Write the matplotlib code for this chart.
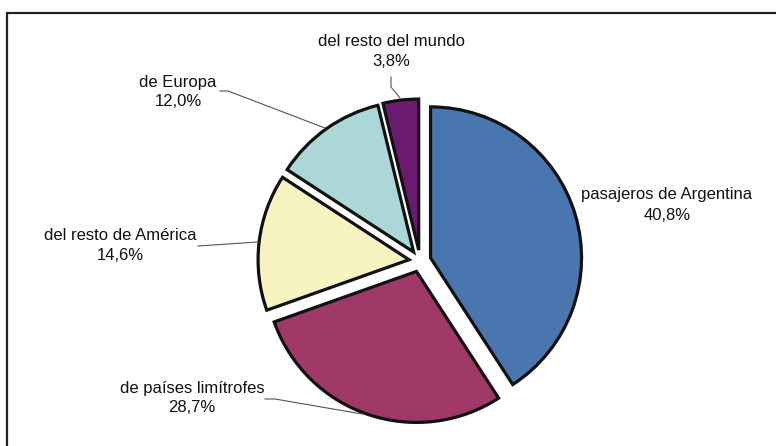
import matplotlib
matplotlib.use('Agg')
import matplotlib.pyplot as plt
from matplotlib.patches import Rectangle

plt.rcParams['font.family'] = ['Liberation Sans', 'DejaVu Sans']

# data
labels = ['pasajeros de Argentina', 'de países limítrofes', 'del resto de América',
          'de Europa', 'del resto del mundo']
values = [40.8, 28.7, 14.6, 12.0, 3.8]
colors = ['#4a76b0', '#a03968', '#f7f4c2', '#abd7d8', '#6a1b70']

# label placement in pixels (image coords: x right, y down)
label_pos = [(667, 195), (192, 388), (120, 235), (178, 82), (391, 42)]
leaders = [
    None,
    [(265, 399), (275, 399), (362, 414)],
    [(198, 246), (258, 242)],
    [(220, 91), (228, 91), (325, 128)],
    [(391, 77), (391, 87), (400, 98)],
]

W, H = 776, 446
fig = plt.figure(figsize=(W / 100, H / 100), dpi=100)
ax = fig.add_axes([0, 0, 1, 1])

def Y(y):
    return H - y

# frame around the chart (cut off on the right and bottom)
ax.add_patch(Rectangle((7, Y(13) - 500), 900, 500, fill=False,
                       edgecolor='#222222', linewidth=1.6, zorder=0))

# explode is in data units (pixels here)
ax.pie(values, colors=colors, explode=[11] * len(values), startangle=90,
       counterclock=False, center=(420, Y(261)), radius=151, frame=True,
       wedgeprops=dict(edgecolor='#111111', linewidth=2.3))
ax.set_xlim(0, W)
ax.set_ylim(0, H)
ax.axis('off')

for lab, v, (x, y), ld in zip(labels, values, label_pos, leaders):
    ax.text(x, Y(y), lab, ha='center', va='center', fontsize=12, color='#111111')
    ax.text(x, Y(y + 20), ('%.1f%%' % v).replace('.', ','), ha='center',
            va='center', fontsize=12, color='#111111')
    if ld:
        ax.plot([p[0] for p in ld], [Y(p[1]) for p in ld], color='#555555',
                linewidth=0.8, zorder=5)

fig.savefig('out.png', dpi=100)
